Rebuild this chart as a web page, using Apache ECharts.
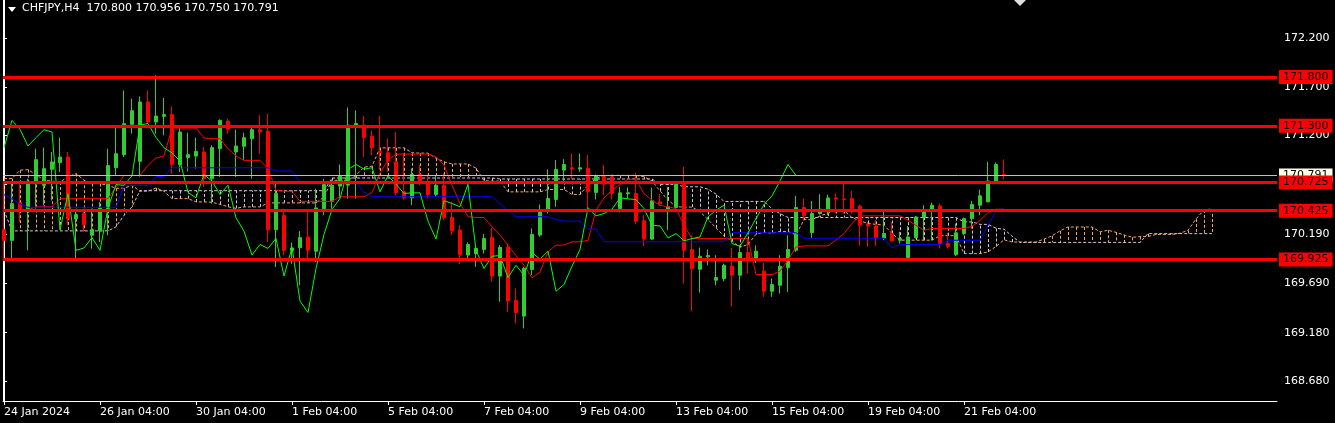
<!DOCTYPE html>
<html><head><meta charset="utf-8">
<script src="https://cdn.jsdelivr.net/npm/echarts@6/dist/echarts.min.js"></script>
<style>html,body{margin:0;padding:0;background:#000;}#c{width:1335px;height:423px;}</style>
</head><body><div id="c"></div>
<script>
const titleText = 'CHFJPY,H4  170.800 170.956 170.750 170.791';
const xLabelIndex = [0,12,24,36,48,60,72,84,96,108,120];
const xLabels = ['24 Jan 2024','26 Jan 04:00','30 Jan 04:00','1 Feb 04:00','5 Feb 04:00','7 Feb 04:00','9 Feb 04:00','13 Feb 04:00','15 Feb 04:00','19 Feb 04:00','21 Feb 04:00'];
const yTicks = [168.68,169.18,169.69,170.19,170.70,171.20,171.70,172.20];
const levels = [171.800,171.300,170.725,170.425,169.925];
const bidPrice = 170.791;

const opens = [170.236,170.126,170.512,170.417,170.707,170.690,170.854,170.922,170.980,170.348,
170.400,170.178,170.222,170.451,170.871,171.004,171.315,170.936,171.544,171.339,
171.397,171.414,170.902,170.974,170.990,171.032,170.758,171.066,171.349,171.032,
171.090,171.168,171.260,171.243,170.236,170.383,170.024,170.051,170.161,170.014,
170.451,170.526,170.682,170.692,171.300,171.307,171.191,171.040,171.023,170.931,
170.624,170.562,170.801,170.709,170.596,170.692,170.361,170.231,169.975,169.992,
170.033,170.156,169.760,170.053,169.510,169.350,169.828,170.180,170.426,170.545,
170.846,170.870,170.856,170.863,170.617,170.777,170.777,170.453,170.603,170.607,
170.327,170.139,170.521,170.419,170.462,170.701,170.032,169.830,169.957,169.718,
169.735,169.861,169.769,170.001,169.940,169.810,169.605,169.666,169.847,170.025,
170.462,170.206,170.401,170.442,170.561,170.551,170.554,170.476,170.288,170.274,
170.151,170.196,170.127,169.950,170.155,170.360,170.424,170.479,170.093,169.980,
170.196,170.349,170.486,170.520,170.732,170.800];
const highs = [170.724,170.707,170.707,170.758,171.066,171.076,171.032,171.178,171.032,170.434,
170.451,170.451,170.519,171.066,171.305,171.663,171.578,171.600,171.663,171.817,
171.585,171.499,171.288,171.230,171.178,171.083,171.100,171.366,171.373,171.260,
171.230,171.305,171.407,171.424,170.707,170.451,170.103,170.222,170.417,170.656,
170.758,170.748,170.904,171.488,171.457,171.399,171.252,171.402,171.170,171.239,
171.017,170.863,170.897,170.801,170.788,170.812,170.521,170.282,170.105,170.077,
170.193,170.255,170.077,170.094,169.633,169.855,170.248,170.494,170.853,170.948,
170.958,171.017,171.017,171.000,170.801,170.897,170.801,170.675,170.668,170.818,
170.385,170.665,170.603,170.675,170.718,170.879,170.179,170.052,170.032,169.974,
169.888,170.049,170.076,170.144,170.076,169.895,169.735,169.974,170.179,170.582,
170.554,170.530,170.599,170.595,170.605,170.715,170.633,170.493,170.315,170.332,
170.418,170.315,170.213,170.274,170.377,170.486,170.513,170.503,170.203,170.298,
170.360,170.530,170.646,170.930,170.923,170.956];
const lows = [169.922,169.922,170.314,170.024,170.451,170.485,170.536,170.827,170.280,169.939,
170.212,170.041,170.109,170.178,170.793,170.980,171.219,170.780,171.322,171.219,
171.202,170.810,170.827,170.833,170.861,170.673,170.502,170.775,171.219,170.775,
170.946,170.758,171.014,170.109,169.853,169.973,169.887,169.666,169.939,169.905,
170.383,170.451,170.555,170.555,170.555,170.982,171.000,170.846,170.829,170.590,
170.545,170.487,170.692,170.555,170.573,170.333,170.180,169.883,169.934,169.855,
169.992,169.702,169.497,169.394,169.275,169.224,169.770,170.163,170.402,170.470,
170.733,170.754,170.829,170.453,170.545,170.590,170.545,170.412,170.555,170.289,
170.067,170.129,170.480,170.231,170.435,169.683,169.400,169.591,169.871,169.666,
169.707,169.451,169.615,169.786,169.895,169.547,169.547,169.581,169.598,170.008,
170.332,170.144,170.390,170.383,170.401,170.401,170.401,170.069,170.059,170.069,
170.127,170.110,170.093,169.940,170.144,170.127,170.127,170.042,170.042,169.963,
170.179,170.247,170.383,170.520,170.708,170.750];
const closes = [170.126,170.502,170.434,170.707,170.953,170.861,170.929,170.980,170.348,170.389,
170.288,170.236,170.461,170.892,171.014,171.322,171.455,171.544,171.339,171.400,
171.414,170.905,171.236,171.004,171.038,170.758,171.076,171.356,171.264,171.093,
171.178,171.260,171.236,170.236,170.605,170.024,170.048,170.154,170.024,170.458,
170.697,170.690,170.788,171.307,171.324,171.180,171.075,171.023,170.938,170.617,
170.562,170.801,170.733,170.596,170.692,170.357,170.221,169.975,170.084,170.043,
170.146,169.760,170.053,169.504,169.387,169.838,170.187,170.443,170.555,170.853,
170.904,170.856,170.870,170.624,170.788,170.702,170.607,170.613,170.613,170.323,
170.139,170.532,170.504,170.470,170.701,170.025,169.837,169.963,169.970,169.745,
169.871,169.769,170.001,169.933,170.015,169.605,169.673,169.861,170.032,170.462,
170.377,170.401,170.445,170.561,170.551,170.544,170.452,170.281,170.274,170.151,
170.196,170.121,170.144,170.161,170.366,170.435,170.486,170.093,170.066,170.203,
170.349,170.493,170.582,170.735,170.903,170.791];

const tenkan = [170.44,170.44,170.44,170.44,170.47,170.47,170.47,
170.553,170.553,170.553,170.553,170.553,170.553,170.553,
170.673,170.792,170.792,170.792,170.895,170.970,170.990,
171.277,171.277,171.277,171.277,171.175,171.168,171.168,171.066,170.991,
170.946,170.946,170.946,170.861,170.639,170.629,170.629,
170.526,170.526,170.526,170.526,170.526,170.573,170.573,170.573,170.573,
170.617,170.812,170.948,171.010,171.010,171.010,171.010,171.010,
170.982,170.897,170.692,170.504,170.368,170.361,170.361,
170.265,170.180,170.077,169.970,169.872,169.743,169.800,170.009,
170.077,170.077,170.111,170.111,170.127,
170.435,170.561,170.640,170.698,170.752,170.752,
170.605,170.537,170.486,170.469,170.452,170.281,
170.144,170.144,170.144,170.144,170.144,170.144,170.144,170.144,
169.776,169.776,169.776,169.810,169.922,170.059,
170.069,170.069,170.069,170.069,170.130,170.196,170.300,
170.377,170.377,170.377,170.377,170.377,170.377,170.332,170.280,170.230,
170.247,170.247,170.247,170.247,170.247,170.270,170.330,170.410,170.445,170.445];
const kijun = [170.594,170.550,170.500,
170.465,170.465,170.465,170.465,170.465,170.465,170.465,170.465,170.465,170.465,170.465,170.465,
170.690,170.690,170.690,170.690,170.780,170.780,
170.870,170.870,170.870,170.870,170.870,170.870,170.870,170.870,170.870,170.870,170.870,170.870,170.870,
170.837,170.837,170.837,
170.720,170.720,170.720,170.720,170.720,170.720,170.720,170.720,
170.620,
170.573,170.573,170.573,170.573,170.573,170.573,170.573,170.573,170.573,170.573,170.573,170.573,170.573,170.573,170.573,170.573,
170.500,170.430,170.368,170.368,170.368,170.368,170.368,170.340,170.323,170.323,170.323,170.241,170.241,
170.112,170.112,170.112,170.112,170.112,170.112,170.112,170.112,170.112,170.112,170.112,170.112,170.112,170.112,170.112,170.112,
170.204,170.204,170.204,170.204,170.204,170.204,170.204,170.204,170.204,
170.148,170.148,170.148,170.148,170.148,170.148,170.148,170.148,170.148,170.148,170.148,
170.049,170.083,170.083,170.083,170.083,170.083,170.083,
170.127,170.127,170.127,170.127,170.127,170.280,170.430,170.450];
const spanA = [170.759,170.759,170.845,170.851,170.800,170.742,170.732,170.725,170.776,170.810,
170.742,170.708,170.708,170.691,170.660,170.660,170.690,170.630,170.630,170.664,
170.630,170.554,170.554,170.554,170.520,170.520,170.517,170.495,170.470,170.454,
170.469,170.469,170.469,170.510,170.510,170.510,170.510,170.510,170.510,170.510,
170.571,170.741,170.741,170.741,170.793,170.876,170.886,171.074,171.074,171.074,
171.074,171.023,171.020,171.020,170.969,170.931,170.909,170.909,170.909,170.866,
170.738,170.733,170.733,170.623,170.623,170.623,170.623,170.623,170.647,170.647,
170.647,170.597,170.595,170.693,170.761,170.792,170.792,170.792,170.792,170.792,
170.778,170.735,170.633,170.539,170.471,170.467,170.467,170.419,170.340,170.254,
170.169,170.120,170.056,170.084,170.189,170.209,170.200,170.217,170.217,170.184,
170.338,170.337,170.376,170.405,170.432,170.432,170.359,170.325,170.299,170.290,
170.282,170.197,170.128,170.128,170.128,170.128,170.128,170.174,170.174,170.174,
169.990,169.990,169.990,170.007,170.063,170.132,170.109,170.109,170.109,170.109,
170.139,170.172,170.224,170.263,170.263,170.263,170.263,170.213,170.230,170.208,
170.182,170.157,170.165,170.165,170.187,170.187,170.187,170.199,170.229,170.345,
170.438,170.448];
const spanB = [170.435,
170.223,170.223,170.223,170.223,170.223,170.223,170.223,170.223,170.223,170.223,170.223,170.223,170.223,
170.264,170.383,170.469,
170.635,170.635,170.635,170.635,170.635,170.635,170.635,170.635,170.635,170.635,170.635,170.635,
170.635,170.635,170.635,170.635,170.635,170.635,170.635,170.635,170.635,170.635,170.635,170.635,
170.765,170.765,170.765,170.765,170.765,170.765,170.765,170.765,170.765,170.765,170.765,
170.765,170.765,170.765,170.765,170.765,170.765,170.765,170.765,170.765,170.765,
170.755,170.755,170.755,170.755,170.755,170.755,170.755,170.755,170.755,170.755,
170.755,170.755,170.755,170.755,170.755,170.755,170.755,170.755,170.755,170.755,
170.700,170.700,170.700,170.675,170.675,170.675,170.650,170.600,
170.525,170.525,170.525,170.525,170.525,170.525,170.450,170.400,
170.360,170.360,170.360,170.360,170.360,170.360,170.360,170.360,170.360,170.360,170.360,
170.360,170.360,170.360,170.360,170.360,170.360,170.360,170.360,170.360,170.360,170.360,
170.315,170.315,170.290,170.290,170.250,170.240,170.170,
170.105,170.105,170.105,170.105,170.105,170.105,170.105,170.105,
170.105,170.105,170.105,170.105,170.105,170.105,170.105,170.105,
170.195,170.195,170.195,170.195,170.195,170.195,170.195,170.195,170.195];
const chikouShift = 26;

const FONT = 'DejaVu Sans';
const candleData = opens.map((o, i) => [i, o, closes[i], lows[i], highs[i]]);
const cloudData = spanA.map((a, j) => [j, a, spanB[j]]);
const pairs = arr => arr.map((v, i) => [i, v]);
const chikouData = closes.slice(chikouShift).map((v, k) => [k, v]);
const priceLine = v => ({yAxis: v, name: v.toFixed(3)});

const chart = echarts.init(document.getElementById('c'), null, {renderer: 'canvas'});
const yMin = 168.480, yMax = 172.589;
const boxLabel = bg => ({show: true, position: 'end', distance: 2, formatter: p => p.name,
  color: '#000000', backgroundColor: bg, padding: [2, 4, 1, 4], lineHeight: 11, fontSize: 11, fontFamily: FONT});
chart.setOption({
  backgroundColor: '#000000',
  animation: false,
  title: {text: titleText, left: 22, top: 3, padding: 0,
    textStyle: {color: '#ffffff', fontSize: 11, fontWeight: 'normal', fontFamily: FONT}},
  graphic: [
    {type: 'polygon', shape: {points: [[8, 7], [16, 7], [12, 12]]}, style: {fill: '#ffffff'}},
    {type: 'polygon', shape: {points: [[1014, 0], [1026, 0], [1020, 6]]}, style: {fill: '#e0e0e0'}}
  ],
  grid: {left: 3, right: 58, top: 0, bottom: 22, containLabel: false},
  xAxis: {
    type: 'value', min: -0.125, max: 159.125,
    axisLine: {show: true, lineStyle: {color: '#ffffff', width: 1}},
    axisTick: {show: true, customValues: xLabelIndex, length: 4, lineStyle: {color: '#ffffff'}},
    axisLabel: {show: true, customValues: xLabelIndex, align: 'left', margin: 6, color: '#ffffff',
      fontSize: 11, fontFamily: FONT,
      formatter: v => { const k = xLabelIndex.indexOf(Math.round(v)); return k >= 0 ? xLabels[k] : ''; }},
    splitLine: {show: false}
  },
  yAxis: [{
    type: 'value', position: 'right', min: yMin, max: yMax, scale: true,
    axisLine: {show: true, lineStyle: {color: '#ffffff', width: 1}},
    axisTick: {show: true, customValues: yTicks, length: 3, lineStyle: {color: '#ffffff'}},
    axisLabel: {show: true, customValues: yTicks, margin: 7, color: '#ffffff', fontSize: 11, fontFamily: FONT,
      formatter: v => v.toFixed(3)},
    splitLine: {show: false}
  }, {
    type: 'value', position: 'left', min: yMin, max: yMax, scale: true,
    axisLine: {show: true, lineStyle: {color: '#ffffff', width: 1}},
    axisTick: {show: false}, axisLabel: {show: false}, splitLine: {show: false}
  }],
  series: [
    {
      type: 'custom', name: 'cloud', z: 1, silent: true,
      encode: {x: 0, y: [1, 2]},
      data: cloudData,
      renderItem: (params, api) => {
        const j = api.value(0), a = api.value(1), b = api.value(2);
        const p1 = api.coord([j, a]), p2 = api.coord([j, b]);
        const x = Math.round(p1[0]) + 0.5;
        return {type: 'line', shape: {x1: x, y1: p1[1], x2: x, y2: p2[1]},
          style: {stroke: a >= b ? '#F4A460' : '#D8BFD8', lineWidth: 1, lineDash: [3, 2]}};
      }
    },
    {type: 'line', name: 'Senkou A', z: 2, data: pairs(spanA), symbol: 'none', silent: true,
      lineStyle: {color: '#F4A460', width: 1, type: [3, 2]}},
    {type: 'line', name: 'Senkou B', z: 2, data: pairs(spanB), symbol: 'none', silent: true,
      lineStyle: {color: '#D8BFD8', width: 1, type: [3, 2]}},
    {
      type: 'candlestick', name: 'CHFJPY', z: 3, silent: true,
      encode: {x: 0, y: [1, 2, 3, 4]},
      data: candleData, barWidth: 4,
      itemStyle: {color: '#32CD32', color0: '#FF0000', borderColor: '#32CD32', borderColor0: '#FF0000', borderWidth: 1}
    },
    {type: 'line', name: 'Tenkan', z: 4, data: pairs(tenkan), symbol: 'none', silent: true,
      lineStyle: {color: '#FF0000', width: 1}},
    {type: 'line', name: 'Kijun', z: 4, data: pairs(kijun), symbol: 'none', silent: true,
      lineStyle: {color: '#0000FF', width: 1}},
    {type: 'line', name: 'Chikou', z: 4, data: chikouData, symbol: 'none', silent: true,
      lineStyle: {color: '#00FF00', width: 1}},
    {type: 'line', name: 'bid', z: 5, data: [], silent: true,
      markLine: {silent: true, symbol: 'none', animation: false,
        lineStyle: {color: '#C0C0C0', width: 1, type: 'solid'},
        label: boxLabel('#FFFFE8'),
        data: [priceLine(bidPrice)]}},
    {type: 'line', name: 'levels', z: 6, data: [], silent: true,
      markLine: {silent: true, symbol: 'none', animation: false,
        lineStyle: {color: '#FF0000', width: 3, type: 'solid'},
        label: boxLabel('#FF0000'),
        data: levels.map(priceLine)}}
  ]
});
</script></body></html>
